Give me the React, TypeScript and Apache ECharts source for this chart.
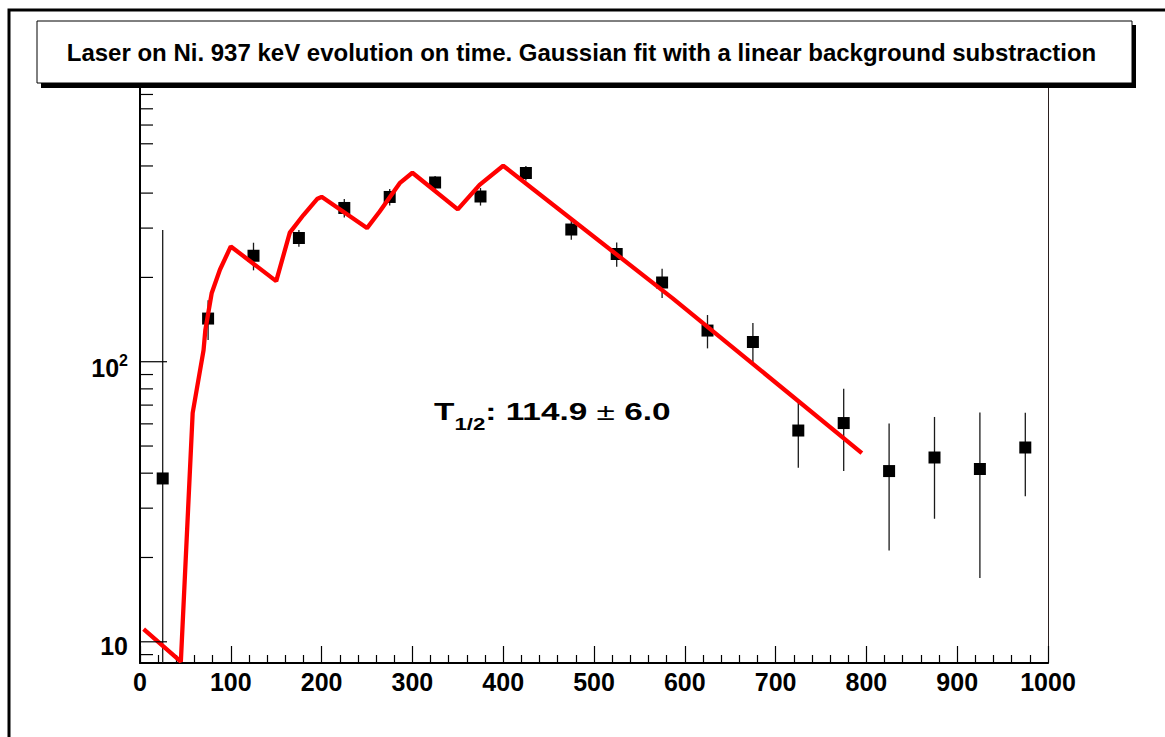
import React, { useEffect, useRef } from "react";
import * as echarts from "echarts";

// ---------- data ----------
const binCenters = [25, 75, 125, 175, 225, 275, 325, 375, 425, 475, 525, 575, 625, 675, 725, 775, 825, 875, 925, 975];
const counts = [38.3, 142.6, 239, 276.5, 354, 387.5, 436.5, 389, 472, 296.5, 242.5, 191.8, 129.2, 117.6, 56.8, 60.4, 40.7, 45.5, 41.4, 49.4];
const countErrors = [257, 23, 27, 19, 27, 26.5, 23.5, 28, 28, 24, 24, 23, 17.6, 20, 15, 19.7, 19.5, 18, 24.5, 16.3];

const fitX = [4, 45, 58, 70, 72, 79, 88, 100, 150, 165, 180, 195, 200, 250, 264, 286, 300, 350, 374, 400, 587, 795];
const fitY = [11.1, 8.5, 65.6, 110, 130, 176, 213, 258, 194, 289, 334, 381, 388, 300, 344, 434, 473, 350, 428, 501, 168, 47.2];

const xMin = 0;
const xMax = 1000;
const xInterval = 100;
const yMin = 8.4;
const yMax = 957;
const yMajorTicks = [10, 100];
const yMinorTicks = [9, 20, 30, 40, 50, 60, 70, 80, 90, 200, 300, 400, 500, 600, 700, 800, 900];

const titleText = "Laser on Ni. 937 keV evolution on time. Gaussian fit with a linear background substraction";
const halfLifeValue = "114.9";
const halfLifeError = "6.0";

const FONT = "'Liberation Sans', Arial, Helvetica, sans-serif";

export default function App() {
  const ref = useRef<HTMLDivElement>(null);

  useEffect(() => {
    if (!ref.current) return;
    const chart = echarts.init(ref.current, null, { renderer: "svg" });

    const tickSeries = (ticks: number[], len: number) => ({
      type: "custom",
      coordinateSystem: "cartesian2d",
      clip: false,
      silent: true,
      z: 4,
      data: ticks.map((v) => [xMin, v]),
      renderItem: (_p: any, api: any) => {
        const p = api.coord([api.value(0), api.value(1)]);
        return {
          type: "line",
          shape: { x1: p[0], y1: p[1], x2: p[0] + len, y2: p[1] },
          style: { stroke: "#000", lineWidth: 1.2 },
        };
      },
    });

    const option: any = {
      animation: false,
      backgroundColor: "#fff",
      grid: { left: 140, right: 117, top: 87, bottom: 74, outerBoundsMode: "none" },
      xAxis: {
        type: "value",
        min: xMin,
        max: xMax,
        interval: xInterval,
        axisLine: { show: true, onZero: false, lineStyle: { color: "#000", width: 2 } },
        axisTick: { show: true, inside: true, length: 17, lineStyle: { color: "#000", width: 1.2 } },
        minorTick: { show: true, splitNumber: 5, length: 8, lineStyle: { color: "#000", width: 1.2 } },
        splitLine: { show: false },
        minorSplitLine: { show: false },
        axisLabel: {
          color: "#000",
          fontFamily: FONT,
          fontWeight: "bold",
          fontSize: 25,
          lineHeight: 25,
          margin: 6,
          showMinLabel: true,
          showMaxLabel: true,
          formatter: (v: number) => String(Math.round(v)),
        },
      },
      yAxis: [
        {
          type: "log",
          logBase: 10,
          min: yMin,
          max: yMax,
          axisLine: { show: true, onZero: false, lineStyle: { color: "#000", width: 2 } },
          axisTick: { show: false },
          splitLine: { show: false },
          axisLabel: {
            margin: 12,
            showMinLabel: true,
            showMaxLabel: true,
            formatter: (v: number) => {
              const e = Math.log10(v);
              if (Math.abs(e - Math.round(e)) > 1e-6) return "";
              const n = Math.round(e);
              return n === 1 ? "{a|10}" : "{b|10}{s|" + n + "}";
            },
            rich: {
              a: { fontFamily: FONT, fontWeight: "bold", fontSize: 25, lineHeight: 24, color: "#000", padding: [4, 0, 0, 0], verticalAlign: "top" },
              b: { fontFamily: FONT, fontWeight: "bold", fontSize: 25, lineHeight: 24, color: "#000", padding: [6, 0, 0, 0], verticalAlign: "top" },
              s: { fontFamily: FONT, fontWeight: "bold", fontSize: 16, lineHeight: 13, color: "#000", padding: [3, 0, 0, 0], verticalAlign: "top" },
            },
          },
        },
        {
          type: "log",
          logBase: 10,
          min: yMin,
          max: yMax,
          position: "right",
          axisLine: { show: true, onZero: false, lineStyle: { color: "#2a1f1f", width: 1 } },
          axisTick: { show: false },
          axisLabel: { show: false },
          splitLine: { show: false },
        },
      ],
      series: [
        tickSeries(yMajorTicks, 27),
        tickSeries(yMinorTicks, 13),
        {
          type: "custom",
          coordinateSystem: "cartesian2d",
          clip: true,
          z: 2,
          dimensions: ["x", "y", "err"],
          encode: { x: 0, y: 1 },
          data: binCenters.map((x, i) => [x, counts[i], countErrors[i]]),
          renderItem: (_p: any, api: any) => {
            const x = api.value(0);
            const y = api.value(1);
            const e = api.value(2);
            const lo = Math.max(y - e, yMin);
            const hi = Math.min(y + e, yMax);
            const p = api.coord([x, y]);
            const pLo = api.coord([x, lo]);
            const pHi = api.coord([x, hi]);
            return {
              type: "group",
              children: [
                { type: "line", shape: { x1: p[0], y1: pLo[1], x2: p[0], y2: pHi[1] }, style: { stroke: "#1a1a1a", lineWidth: 1.3 } },
                { type: "rect", shape: { x: p[0] - 6, y: p[1] - 6, width: 12, height: 12 }, style: { fill: "#000" } },
              ],
            };
          },
        },
        {
          type: "line",
          data: fitX.map((x, i) => [x, fitY[i]]),
          showSymbol: false,
          symbol: "none",
          z: 3,
          lineStyle: { color: "#ff0000", width: 4.3 },
          clip: true,
        },
      ],
      graphic: [
        {
          type: "rect",
          z: 100,
          silent: true,
          shape: { x: 9, y: 10, width: 1200, height: 800 },
          style: { fill: "none", stroke: "#000", lineWidth: 3 },
        },
        {
          type: "rect",
          z: 100,
          silent: true,
          shape: { x: 41, y: 25, width: 1095, height: 63 },
          style: { fill: "#000" },
        },
        {
          type: "rect",
          z: 101,
          silent: true,
          shape: { x: 37, y: 21, width: 1095, height: 62 },
          style: { fill: "#fff", stroke: "#000", lineWidth: 1 },
        },
        {
          type: "text",
          z: 102,
          x: 581.5,
          y: 52,
          style: {
            text: titleText,
            fill: "#000",
            fontFamily: FONT,
            fontWeight: "bold",
            fontSize: 24,
            align: "center",
            verticalAlign: "middle",
          },
        },
        {
          type: "text",
          z: 102,
          x: 434,
          y: 400,
          scaleX: 1.39,
          scaleY: 1,
          style: {
            text: "{t|T}{sub|1/2}{t|: " + halfLifeValue + " }{pm|\u00b1}{t| " + halfLifeError + "}",
            align: "left",
            verticalAlign: "top",
            rich: {
              t: { fontFamily: FONT, fontWeight: "bold", fontSize: 24, lineHeight: 24, fill: "#000", verticalAlign: "top" },
              sub: { fontFamily: FONT, fontWeight: "bold", fontSize: 16, lineHeight: 16, fill: "#000", padding: [16, 0, 0, 0], verticalAlign: "top" },
              pm: { fontFamily: FONT, fontWeight: "normal", fontSize: 24, lineHeight: 24, fill: "#000", verticalAlign: "top" },
            },
          },
        },
      ],
    };

    chart.setOption(option);
    return () => chart.dispose();
  }, []);

  return (
    <div
      ref={ref}
      style={{ position: "absolute", left: 0, top: 0, width: 1165, height: 737, background: "#fff" }}
    />
  );
}
